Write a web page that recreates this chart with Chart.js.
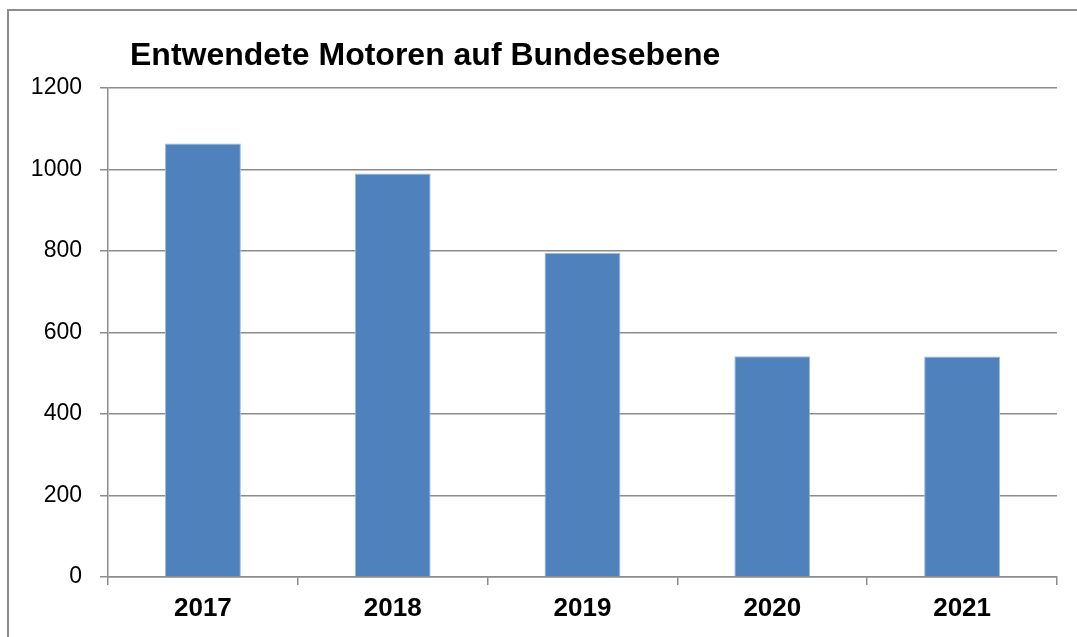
<!DOCTYPE html>
<html>
<head>
<meta charset="utf-8">
<script src="https://cdn.jsdelivr.net/npm/chart.js@4/dist/chart.umd.min.js"></script>
<style>
  html, body { margin: 0; padding: 0; background: #fff; overflow: hidden; }
  #rahmen { position: absolute; left: 7px; top: 9px; width: 1090px; height: 650px; border: 2px solid #8c8c8c; box-sizing: border-box; }
  #box { position: absolute; left: 0; top: 0; width: 1077px; height: 637px; }
</style>
</head>
<body>
<div id="rahmen"></div>
<div id="box"><canvas id="myChart"></canvas></div>
<script>
// Daten
var jahre = ["2017", "2018", "2019", "2020", "2021"]
var motoren = [1064, 990, 795, 542, 541]
var yTicks = [0, 200, 400, 600, 800, 1000, 1200]
var titel = "Entwendete Motoren auf Bundesebene"

var grau = "#8c8c8c"

// Titel oben links, wie im Original
const titelPlugin = {
  id: "titelPlugin",
  afterDraw(chart) {
    const ctx = chart.ctx
    ctx.save()
    ctx.font = "bold 32px 'Liberation Sans', Arial, sans-serif"
    ctx.fillStyle = "#000"
    ctx.textBaseline = "middle"
    ctx.textAlign = "left"
    ctx.fillText(titel, 130, 56)
    ctx.restore()
  }
}

var chart = new Chart("myChart", {
  type: "bar",
  data: {
    labels: jahre,
    datasets: [{
      label: titel,
      data: motoren,
      backgroundColor: "#4f81bd",
      borderColor: "#9dbbe0",
      borderWidth: 1,
      barPercentage: 0.4,
      categoryPercentage: 1
    }]
  },
  options: {
    responsive: true,
    maintainAspectRatio: false,
    animation: false,
    layout: {
      padding: { top: 88, right: 20, left: 0, bottom: 0 }
    },
    scales: {
      x: {
        grid: {
          offset: true,
          drawOnChartArea: false,
          drawTicks: true,
          tickLength: 8,
          color: grau,
          lineWidth: 1.5
        },
        border: { color: grau, width: 1.5 },
        ticks: {
          color: "#000",
          padding: 8,
          font: { family: "'Liberation Sans', Arial, sans-serif", size: 26, weight: "bold" }
        },
        afterFit(scale) { scale.height = 60 }
      },
      y: {
        min: 0,
        max: 1200,
        afterBuildTicks(scale) {
          scale.ticks = yTicks.map(v => ({ value: v }))
        },
        grid: {
          color: grau,
          lineWidth: 1.5,
          tickLength: 8
        },
        border: { color: grau, width: 1.5 },
        ticks: {
          color: "#000",
          padding: 18,
          font: { family: "'Liberation Sans', Arial, sans-serif", size: 23 },
          callback: function(value) { return String(value) }
        },
        afterFit(scale) { scale.width = 108 }
      }
    },
    plugins: {
      legend: { display: false },
      title: { display: false },
      tooltip: { enabled: false }
    }
  },
  plugins: [titelPlugin]
});
</script>
</body>
</html>
